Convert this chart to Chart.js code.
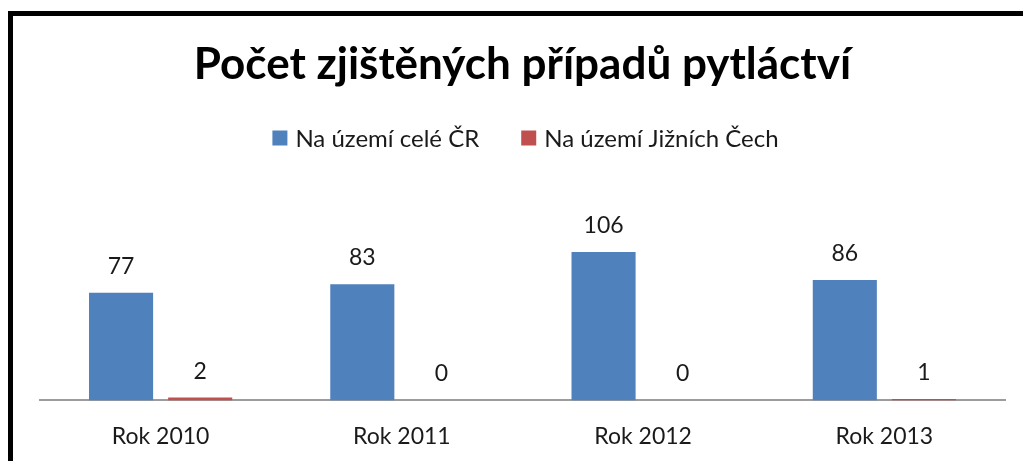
<!DOCTYPE html>
<html>
<head>
<meta charset="utf-8">
<script src="https://cdn.jsdelivr.net/npm/chart.js@4.4.1/dist/chart.umd.min.js"></script>
<style>
  html, body { margin: 0; padding: 0; background: #ffffff; }
  #wrap { position: relative; width: 1023px; height: 461px; }
</style>
</head>
<body>
<div id="wrap"><canvas id="c" width="1023" height="461"></canvas></div>
<script>
const titleText = 'Počet zjištěných případů pytláctví';
const categories = ['Rok 2010', 'Rok 2011', 'Rok 2012', 'Rok 2013'];
const seriesNames = ['Na území celé ČR', 'Na území Jižních Čech'];
const valuesCR = [77, 83, 106, 86];
const valuesJC = [2, 0, 0, 1];
const seriesColors = ['#4F81BD', '#C0504D'];

const FONT = 'Lato, "Open Sans", sans-serif';

const framePlugin = {
  id: 'frame',
  beforeDraw(chart) {
    const ctx = chart.ctx;
    ctx.save();
    ctx.fillStyle = '#ffffff';
    ctx.fillRect(0, 0, chart.width, chart.height);
    ctx.fillStyle = '#000000';
    ctx.fillRect(8, 11, chart.width - 8, 5);
    ctx.fillRect(8, 11, 5, chart.height - 11);
    ctx.restore();
  }
};

const legendPlugin = {
  id: 'customLegend',
  afterDraw(chart) {
    const ctx = chart.ctx;
    const box = 15, gapText = 8, gapItem = 42, cy = 138;
    ctx.save();
    ctx.font = '24px ' + FONT;
    ctx.textBaseline = 'middle';
    const items = chart.data.datasets.map(d => ({ label: d.label, color: d.backgroundColor, w: ctx.measureText(d.label).width }));
    let total = 0;
    items.forEach((it, i) => { total += box + gapText + it.w + (i ? gapItem : 0); });
    const area = chart.chartArea;
    let x = (area.left + area.right) / 2 - total / 2 + 3;
    items.forEach((it, i) => {
      if (i) x += gapItem;
      ctx.fillStyle = it.color;
      ctx.fillRect(x, cy - box / 2, box, box);
      x += box + gapText;
      ctx.fillStyle = '#1a1a1a';
      ctx.textAlign = 'left';
      ctx.fillText(it.label, x, cy + 1);
      x += it.w;
    });
    ctx.restore();
  }
};

const valueLabelPlugin = {
  id: 'valueLabels',
  afterDatasetsDraw(chart) {
    const ctx = chart.ctx;
    ctx.save();
    ctx.font = '23px ' + FONT;
    ctx.fillStyle = '#1a1a1a';
    ctx.textAlign = 'center';
    ctx.textBaseline = 'alphabetic';
    chart.data.datasets.forEach((ds, di) => {
      const meta = chart.getDatasetMeta(di);
      meta.data.forEach((bar, i) => {
        ctx.fillText(String(ds.data[i]), bar.x, bar.y - 19);
      });
    });
    ctx.restore();
  }
};

new Chart(document.getElementById('c'), {
  type: 'bar',
  data: {
    labels: categories,
    datasets: [
      { label: seriesNames[0], data: valuesCR, backgroundColor: seriesColors[0], categoryPercentage: 0.656, barPercentage: 0.81 },
      { label: seriesNames[1], data: valuesJC, backgroundColor: seriesColors[1], categoryPercentage: 0.656, barPercentage: 0.81 }
    ]
  },
  options: {
    responsive: false,
    animation: false,
    devicePixelRatio: 1,
    layout: { padding: { left: 40, right: 18, top: 0, bottom: -11 } },
    plugins: {
      legend: { display: false },
      tooltip: { enabled: false },
      title: {
        display: true,
        text: titleText,
        color: '#000000',
        font: { family: FONT, size: 44, weight: 'bold' },
        padding: { top: 38, bottom: 62 }
      }
    },
    scales: {
      x: {
        grid: { display: false, drawTicks: false },
        border: { display: true, color: '#9c9c9c', width: 2 },
        ticks: { color: '#1a1a1a', font: { family: FONT, size: 23 }, padding: 22 }
      },
      y: {
        display: false,
        min: 0,
        max: 177
      }
    }
  },
  plugins: [framePlugin, legendPlugin, valueLabelPlugin]
});
</script>
</body>
</html>
